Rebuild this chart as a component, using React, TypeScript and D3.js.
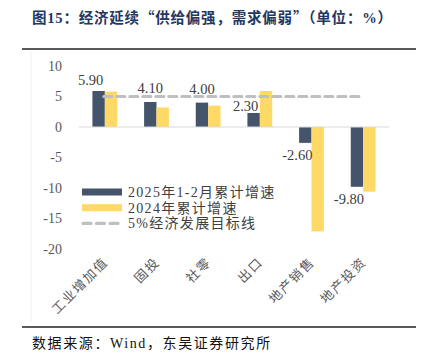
import React, { useLayoutEffect, useRef } from "react";
import { axisLeft, scaleBand, scaleLinear, select } from "d3";

const categories = ["工业增加值", "固投", "社零", "出口", "地产销售", "地产投资"];
const growth2025 = [5.9, 4.1, 4.0, 2.3, -2.6, -9.8];
const growth2024 = [5.8, 3.2, 3.5, 5.9, -17.1, -10.6];
const target = 5;
const yTicks = [10, 5, 0, -5, -10, -15, -20];
const legendLabels = ["2025年1-2月累计增速", "2024年累计增速", "5%经济发展目标线"];

const titleParts = ["图15：经济延续", "“", "供给偏强，需求偏弱", "”", "（单位：%）"];
const source = "数据来源：Wind，东吴证券研究所";

export default function App() {
  const ref = useRef<SVGSVGElement>(null);

  useLayoutEffect(() => {
    const W = 428;
    const H = 360;
    const dark = "#44546a";
    const yellow = "#ffd966";
    const grey = "#bfbfbf";
    const serif = "'Liberation Serif', 'Times New Roman', serif";
    const cjk = "'Noto Sans CJK SC', sans-serif";

    const svg = select(ref.current!);
    svg.selectAll("*").remove();
    svg.attr("width", W).attr("height", H);
    svg.append("rect").attr("width", W).attr("height", H).attr("fill", "#fff");

    // header / footer
    const t = svg
      .append("text")
      .attr("x", 32)
      .attr("y", 23)
      .attr("font-family", `'Liberation Serif', ${cjk}`)
      .attr("font-weight", "bold")
      .attr("font-size", 14.5)
      .attr("letter-spacing", 0.8)
      .attr("fill", "#1f3864");
    titleParts.forEach((p) => {
      const s = t.append("tspan").text(p);
      if (p === "“" || p === "”") s.attr("font-family", cjk);
    });
    svg.append("line").attr("x1", 22).attr("x2", 416).attr("y1", 49).attr("y2", 49)
      .attr("stroke", "#222").attr("stroke-width", 1.5);
    svg.append("line").attr("x1", 22).attr("x2", 416).attr("y1", 327).attr("y2", 327)
      .attr("stroke", "#222").attr("stroke-width", 1.5);
    svg
      .append("text")
      .text(source)
      .attr("x", 32)
      .attr("y", 348)
      .attr("font-family", `'Liberation Serif', ${cjk}`)
      .attr("font-size", 14)
      .attr("letter-spacing", 1.6)
      .attr("fill", "#111");

    // faint chart area edge
    svg.append("line").attr("x1", 31).attr("x2", 31).attr("y1", 52).attr("y2", 322)
      .attr("stroke", "#f0f0f0");

    const x = scaleBand<string>().domain(categories).range([79, 389]).paddingInner(0).paddingOuter(0);
    const bw = 12.4;
    const y = scaleLinear().domain([-20, 10]).range([249, 66]);

    const g = svg.append("g");

    // y axis
    const ax = g
      .append("g")
      .attr("transform", "translate(79,0)")
      .call(axisLeft(y).tickValues(yTicks).tickSize(0).tickPadding(17).tickFormat((d) => `${d}`));
    ax.select(".domain").remove();
    ax.selectAll("text")
      .attr("font-family", serif)
      .attr("font-size", 14)
      .attr("fill", "#595959");

    // bars
    const cx = (c: string) => (x(c) as number) + x.bandwidth() / 2;
    g.selectAll("rect.b25")
      .data(growth2025)
      .join("rect")
      .attr("class", "b25")
      .attr("x", (d, i) => cx(categories[i]) - bw)
      .attr("width", bw)
      .attr("y", (d) => y(Math.max(0, d)))
      .attr("height", (d) => Math.abs(y(d) - y(0)))
      .attr("fill", dark);
    g.selectAll("rect.b24")
      .data(growth2024)
      .join("rect")
      .attr("class", "b24")
      .attr("x", (d, i) => cx(categories[i]))
      .attr("width", bw)
      .attr("y", (d) => y(Math.max(0, d)))
      .attr("height", (d) => Math.abs(y(d) - y(0)))
      .attr("fill", yellow);

    // zero line
    g.append("line").attr("x1", 79).attr("x2", 389).attr("y1", y(0)).attr("y2", y(0))
      .attr("stroke", "#d9d9d9").attr("stroke-width", 1);

    // target line
    g.append("line")
      .attr("x1", cx(categories[0]) - 1)
      .attr("x2", cx(categories[categories.length - 1]) - 2)
      .attr("y1", y(target))
      .attr("y2", y(target))
      .attr("stroke", grey)
      .attr("stroke-width", 3.2)
      .attr("stroke-dasharray", "8,5")
      .attr("stroke-linecap", "round");

    // value labels (nudged like the hand-placed labels of the original)
    const lift = (i: number) => (i === 1 || i === 2 ? 9 : i === 3 ? 2 : 6);
    g.selectAll("text.val")
      .data(growth2025)
      .join("text")
      .attr("class", "val")
      .text((d) => d.toFixed(2))
      .attr("x", (d, i) => cx(categories[i]) - bw / 2 - (i === 1 || i === 2 ? 0 : 8))
      .attr("y", (d, i) => (d >= 0 ? y(d) - lift(i) : y(d) + 17))
      .attr("text-anchor", "middle")
      .attr("font-family", serif)
      .attr("font-size", 14.5)
      .attr("fill", "#404040");

    // x labels
    g.selectAll("text.cat")
      .data(categories)
      .join("text")
      .attr("class", "cat")
      .text((d) => d)
      .attr("transform", (d) => `translate(${cx(d) + 4},${263}) rotate(-45)`)
      .attr("text-anchor", "end")
      .attr("font-family", cjk)
      .attr("font-size", 13)
      .attr("letter-spacing", 1.6)
      .attr("fill", "#595959");

    // legend
    const lg = g.append("g").attr("transform", "translate(82,192)");
    const rowH = 15.7;
    legendLabels.forEach((lab, i) => {
      const row = lg.append("g").attr("transform", `translate(0,${i * rowH})`);
      if (i < 2) {
        row.append("rect").attr("x", 0).attr("y", -3.5).attr("width", 40).attr("height", 7)
          .attr("fill", i === 0 ? dark : yellow);
      } else {
        row.append("line").attr("x1", 1).attr("x2", 40).attr("y1", 0).attr("y2", 0)
          .attr("stroke", grey).attr("stroke-width", 3.2)
          .attr("stroke-dasharray", "8,5.5").attr("stroke-linecap", "round");
      }
      row.append("text")
        .text(lab)
        .attr("x", 46)
        .attr("y", 5)
        .attr("font-family", `'Liberation Serif', ${cjk}`)
        .attr("font-size", 14)
        .attr("letter-spacing", 1.3)
        .attr("fill", "#404040");
    });
  }, []);

  return (
    <div style={{ position: "absolute", left: 0, top: 0 }}>
      <svg ref={ref}></svg>
    </div>
  );
}
